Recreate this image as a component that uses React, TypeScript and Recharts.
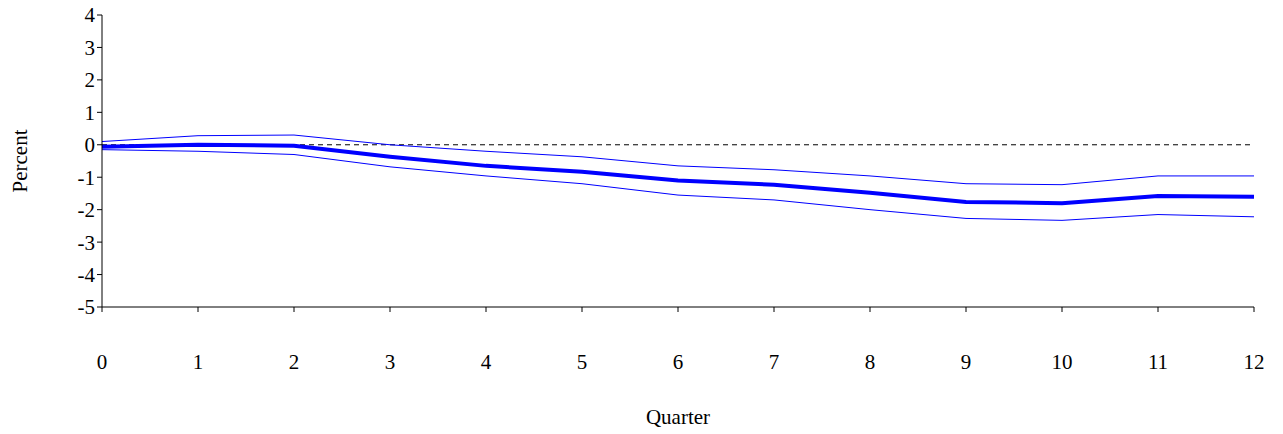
import React from 'react';
import { LineChart, Line, XAxis, YAxis, ReferenceLine, Label } from 'recharts';

const quarters = [0, 1, 2, 3, 4, 5, 6, 7, 8, 9, 10, 11, 12];
const mid = [-0.06, 0.0, -0.03, -0.37, -0.65, -0.83, -1.1, -1.23, -1.48, -1.76, -1.8, -1.58, -1.6];
const upper = [0.1, 0.28, 0.3, 0.0, -0.2, -0.37, -0.65, -0.77, -0.96, -1.2, -1.23, -0.96, -0.96];
const lower = [-0.15, -0.2, -0.3, -0.68, -0.96, -1.2, -1.55, -1.7, -2.0, -2.27, -2.33, -2.15, -2.22];
const yTicks = [-5, -4, -3, -2, -1, 0, 1, 2, 3, 4];

const data = quarters.map((q, i) => ({ q, mid: mid[i], upper: upper[i], lower: lower[i] }));

const FONT = 'Liberation Serif, Times New Roman, serif';
const tick = { fontSize: 21, fill: '#000', fontFamily: FONT };

export default function App() {
  return (
    <div style={{ position: 'absolute', left: 0, top: 0 }}>
      <LineChart width={1283} height={434} data={data} margin={{ top: 15, right: 29, bottom: 0, left: 0 }}>
        <XAxis xAxisId="top" orientation="top" dataKey="q" type="number" domain={[0, 12]} tick={false} tickLine={false} stroke="#808080" height={0} />
        <YAxis yAxisId="r" orientation="right" domain={[-5, 4]} tick={false} tickLine={false} stroke="#808080" width={0} />
        <XAxis dataKey="q" type="number" domain={[0, 12]} ticks={quarters} stroke="#000" tickLine={{ stroke: '#000' }} tickSize={5}
          tick={{ ...tick, dy: 40 }} height={127} interval={0}>
          <Label value="Quarter" position="insideBottom" offset={10} style={{ ...tick, fill: '#000' }} />
        </XAxis>
        <YAxis domain={[-5, 4]} ticks={yTicks} stroke="#000" tickSize={5} tick={tick} width={102} interval={0}>
          <Label value="Percent" angle={-90} position="insideLeft" offset={20} style={{ ...tick, textAnchor: 'middle' }} />
        </YAxis>
        <ReferenceLine y={0} stroke="#000" strokeDasharray="5 4" strokeWidth={1} />
        <Line dataKey="upper" stroke="#0000FF" strokeWidth={1} dot={false} isAnimationActive={false} />
        <Line dataKey="lower" stroke="#0000FF" strokeWidth={1} dot={false} isAnimationActive={false} />
        <Line dataKey="mid" stroke="#0000FF" strokeWidth={4} dot={false} isAnimationActive={false} />
      </LineChart>
    </div>
  );
}
